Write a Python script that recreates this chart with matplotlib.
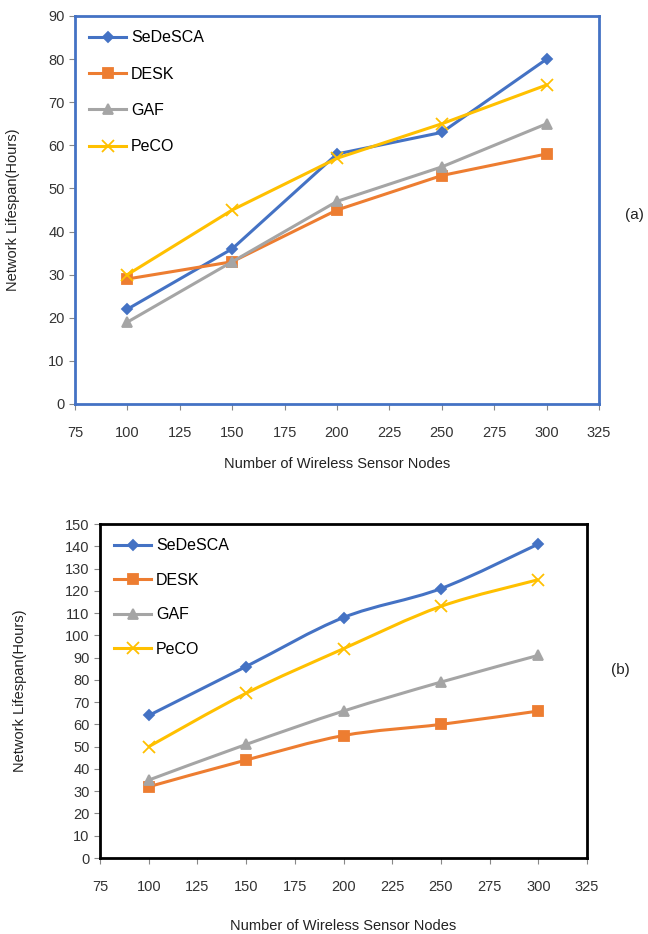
import matplotlib
matplotlib.use("Agg")
import matplotlib.pyplot as plt
from matplotlib.path import Path
from matplotlib.patches import PathPatch
from matplotlib.lines import Line2D

plt.rcParams['font.family'] = ['Liberation Sans Narrow', 'Liberation Sans', 'DejaVu Sans']

nodes = [100, 150, 200, 250, 300]
xticks = [75, 100, 125, 150, 175, 200, 225, 250, 275, 300, 325]

# panel (a)
a_sedesca = [22, 36, 58, 63, 80]
a_desk = [29, 33, 45, 53, 58]
a_gaf = [19, 33, 47, 55, 65]
a_peco = [30, 45, 57, 65, 74]

# panel (b)
b_sedesca = [64, 86, 108, 121, 141]
b_desk = [32, 44, 55, 60, 66]
b_gaf = [35, 51, 66, 79, 91]
b_peco = [50, 74, 94, 113, 125]

names = ['SeDeSCA', 'DESK', 'GAF', 'PeCO']
colors = ['#4472C4', '#ED7D31', '#A5A5A5', '#FFC000']
markers = ['D', 's', '^', 'x']
msizes = [5, 7, 7, 8]


def smooth_path(xs, ys):
    # catmull-rom segments as cubic beziers, like excel's smoothed lines
    pts = list(zip(xs, ys))
    verts = [pts[0]]
    codes = [Path.MOVETO]
    n = len(pts)
    for i in range(n - 1):
        p0 = pts[i - 1] if i > 0 else pts[i]
        p1 = pts[i]
        p2 = pts[i + 1]
        p3 = pts[i + 2] if i + 2 < n else pts[i + 1]
        c1 = (p1[0] + (p2[0] - p0[0]) / 6, p1[1] + (p2[1] - p0[1]) / 6)
        c2 = (p2[0] - (p3[0] - p1[0]) / 6, p2[1] - (p3[1] - p1[1]) / 6)
        verts += [c1, c2, p2]
        codes += [Path.CURVE4] * 3
    return Path(verts, codes)


def panel(ax, series, ymax, ystep, spine_color, smooth, spacing):
    for vals, name, c, m, ms in zip(series, names, colors, markers, msizes):
        if smooth:
            ax.add_patch(PathPatch(smooth_path(nodes, vals), fill=False,
                                   edgecolor=c, lw=2.2, zorder=2))
            ax.plot(nodes, vals, ls='none', marker=m, color=c, ms=ms,
                    mew=1.3, zorder=3)
        else:
            ax.plot(nodes, vals, color=c, lw=2.2, marker=m, ms=ms, mew=1.3,
                    zorder=2)
    ax.set_xlim(75, 325)
    ax.set_ylim(0, ymax)
    ax.set_xticks(xticks)
    ax.set_yticks(range(0, ymax + 1, ystep))
    for s in ax.spines.values():
        s.set_color(spine_color)
        s.set_linewidth(2)
    ax.tick_params(length=4, color='#888888', labelsize=10.5, colors='#333333')
    ax.tick_params(axis='x', pad=12)
    ax.set_xlabel('Number of Wireless Sensor Nodes', fontsize=10.5,
                  color='#222222', labelpad=12)
    ax.set_ylabel('Network Lifespan(Hours)', fontsize=10.5, color='#222222')
    handles = [Line2D([], [], color=c, lw=2.2, marker=m, ms=ms, mew=1.3)
               for c, m, ms in zip(colors, markers, msizes)]
    ax.legend(handles, names, loc='upper left', frameon=False,
              fontsize=11.5, labelspacing=spacing, handlelength=2.3,
              handletextpad=0.3, borderaxespad=0.5)


fig = plt.figure(figsize=(6.48, 9.34), dpi=100)

ax1 = fig.add_axes([75 / 648, 1 - 404 / 934, 524 / 648, 388 / 934])
panel(ax1, [a_sedesca, a_desk, a_gaf, a_peco], 90, 10, '#4472C4', False, 1.33)
ax1.yaxis.set_label_coords(-0.105, 0.5)
fig.text(634 / 648, 1 - 215 / 934, '(a)', fontsize=11, ha='center',
         va='center', color='#222222')

ax2 = fig.add_axes([100 / 648, 1 - 858 / 934, 487 / 648, 334 / 934])
panel(ax2, [b_sedesca, b_desk, b_gaf, b_peco], 150, 10, '#000000', True, 1.22)
ax2.xaxis.labelpad = 18
ax2.yaxis.set_label_coords(-0.15, 0.5)
fig.text(620 / 648, 1 - 670 / 934, '(b)', fontsize=11, ha='center',
         va='center', color='#222222')

fig.savefig('out.png', dpi=100)
